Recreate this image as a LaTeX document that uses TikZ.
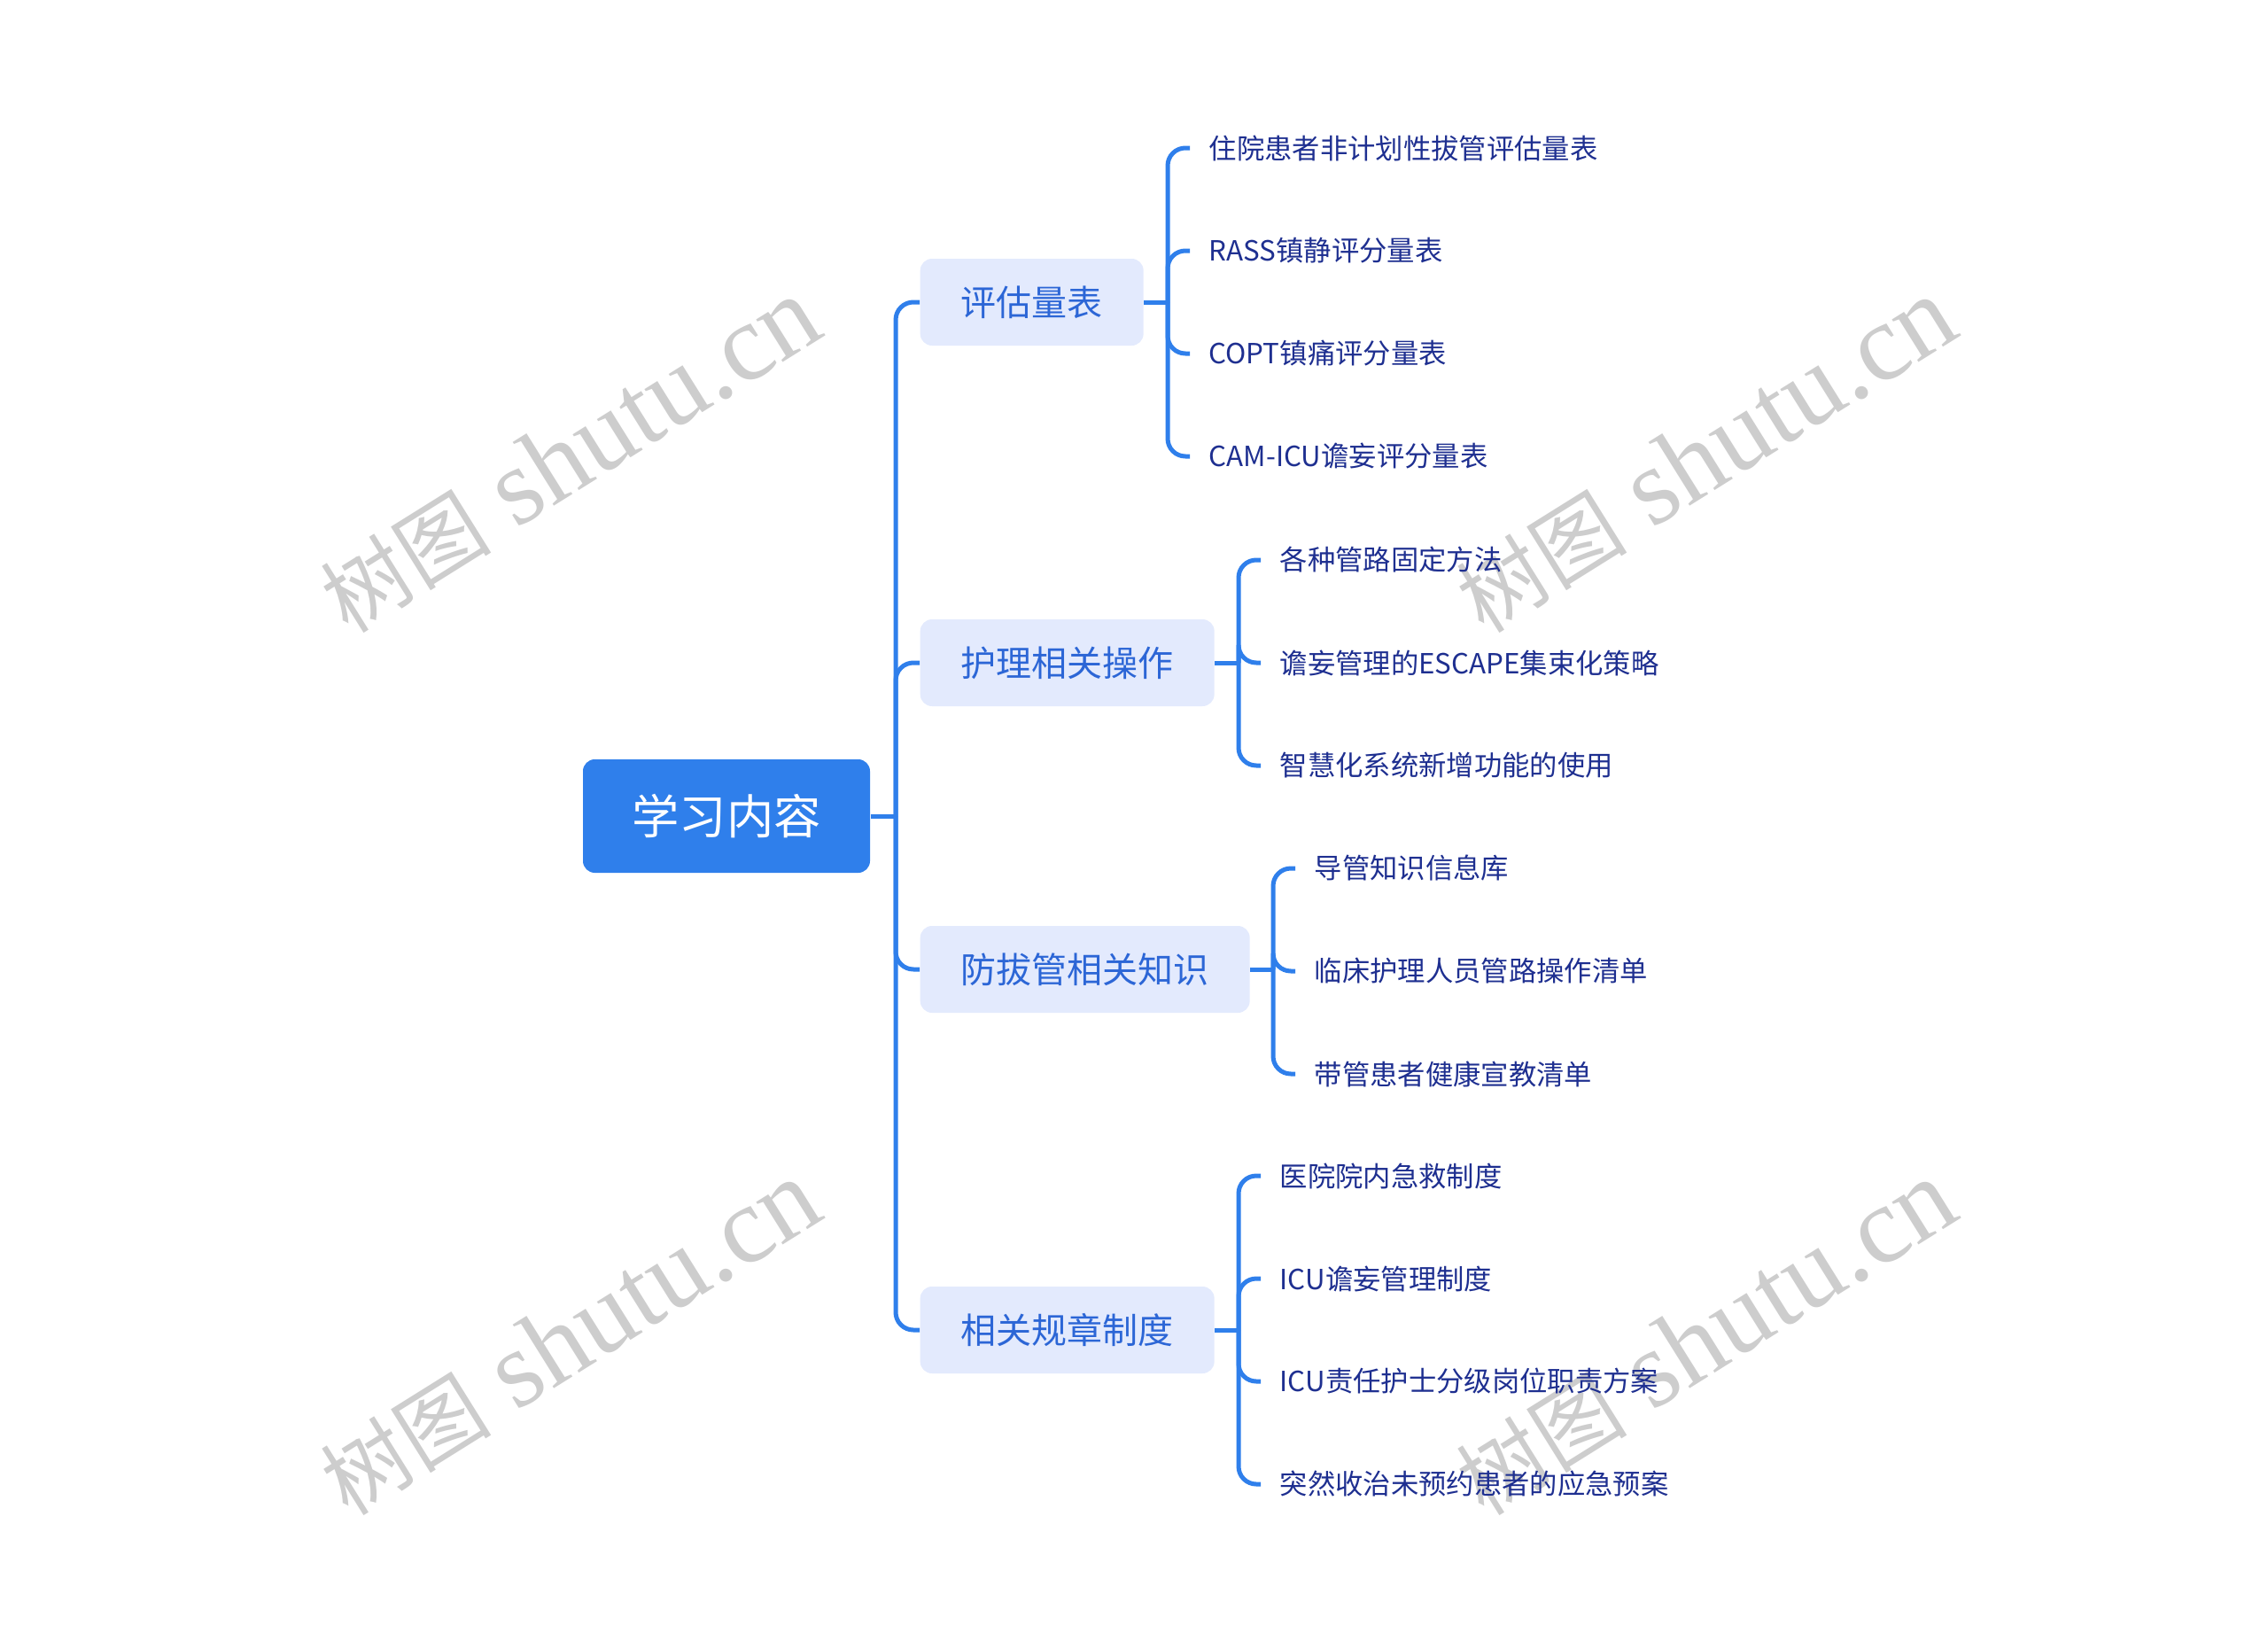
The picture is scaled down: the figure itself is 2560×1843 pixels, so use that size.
\documentclass[tikz,border=0pt]{standalone}
\usepackage{fontspec}
\newfontfamily\cjk{Noto Sans CJK SC}
\newfontfamily\wmserif{Liberation Serif}
\definecolor{mainblue}{HTML}{2F7FEB}
\definecolor{lightbox}{HTML}{E3EAFD}
\definecolor{lonetext}{HTML}{2C66D6}
\definecolor{ltwotext}{HTML}{1E2F90}
\definecolor{wmgray}{HTML}{CDCDCD}
\tikzset{
  rootbox/.style={fill=mainblue, text=white, rounded corners=4pt, font=\cjk\fontsize{16}{16}\selectfont, minimum height=38.4pt, inner xsep=16.6pt, inner ysep=0pt},
  lonebox/.style={fill=lightbox, text=lonetext, rounded corners=4pt, font=\cjk\fontsize{12}{12}\selectfont, minimum height=29.4pt, inner xsep=13.8pt, inner ysep=0pt, anchor=west},
  ltwo/.style={text=ltwotext, font=\cjk\fontsize{9.4}{9.4}\selectfont, inner xsep=6.3pt, inner ysep=2pt, anchor=west},
  conn/.style={draw=mainblue, line width=1.5pt, rounded corners=6pt},
  wmark/.style={text=wmgray, rotate=32}
}
\newcommand{\wmtext}{{\cjk\fontsize{29}{29}\selectfont 树图}\hspace{9pt}{\wmserif\fontsize{37}{37}\selectfont shutu.cn}}
\begin{document}
\begin{tikzpicture}[x=0.3pt,y=-0.3pt]
\useasboundingbox (0,0) rectangle (2560,1843);
% watermarks
\node[wmark] (wm1) at (643,514) {\wmtext};
\node[wmark] (wm2) at (1925,514) {\wmtext};
\node[wmark] (wm3) at (643,1510) {\wmtext};
\node[wmark] (wm4) at (1925,1510) {\wmtext};
% root
\node[rootbox] (root) at (820,921) {学习内容};
% level 1
\node[lonebox] (a) at (1038,341) {评估量表};
\node[lonebox] (b) at (1038,748) {护理相关操作};
\node[lonebox] (c) at (1038,1094) {防拔管相关知识};
\node[lonebox] (d) at (1038,1501) {相关规章制度};
% level 2
\node[ltwo] (a1) at (1343,167) {住院患者非计划性拔管评估量表};
\node[ltwo] (a2) at (1343,283) {RASS镇静评分量表};
\node[ltwo] (a3) at (1343,399) {COPT镇痛评分量表};
\node[ltwo] (a4) at (1343,515) {CAM-ICU谵妄评分量表};
\node[ltwo] (b1) at (1423,632) {各种管路固定方法};
\node[ltwo] (b2) at (1423,748) {谵妄管理的ESCAPE集束化策略};
\node[ltwo] (b3) at (1423,864) {智慧化系统新增功能的使用};
\node[ltwo] (c1) at (1462,980) {导管知识信息库};
\node[ltwo] (c2) at (1462,1096) {临床护理人员管路操作清单};
\node[ltwo] (c3) at (1462,1212) {带管患者健康宣教清单};
\node[ltwo] (d1) at (1423,1327) {医院院内急救制度};
\node[ltwo] (d2) at (1423,1443) {ICU谵妄管理制度};
\node[ltwo] (d3) at (1423,1559) {ICU责任护士分级岗位职责方案};
\node[ltwo] (d4) at (1423,1675) {突然收治未预约患者的应急预案};
% trunk
\coordinate (tj) at (1011,921);
\draw[conn] (root.east) -- (tj);
\foreach \n in {a,b,c,d} \draw[conn] (tj) |- (\n.west);
% level 2 connectors
\coordinate (aj) at (1318,341);
\draw[conn] (a.east) -- (aj);
\foreach \n in {a1,a2,a3,a4} \draw[conn] (aj) |- (\n.west);
\coordinate (bj) at (1398,748);
\draw[conn] (b.east) -- (bj);
\foreach \n in {b1,b2,b3} \draw[conn] (bj) |- (\n.west);
\coordinate (cj) at (1437,1094);
\draw[conn] (c.east) -- (cj);
\foreach \n in {c1,c2,c3} \draw[conn] (cj) |- (\n.west);
\coordinate (dj) at (1398,1501);
\draw[conn] (d.east) -- (dj);
\foreach \n in {d1,d2,d3,d4} \draw[conn] (dj) |- (\n.west);
\end{tikzpicture}
\end{document}
